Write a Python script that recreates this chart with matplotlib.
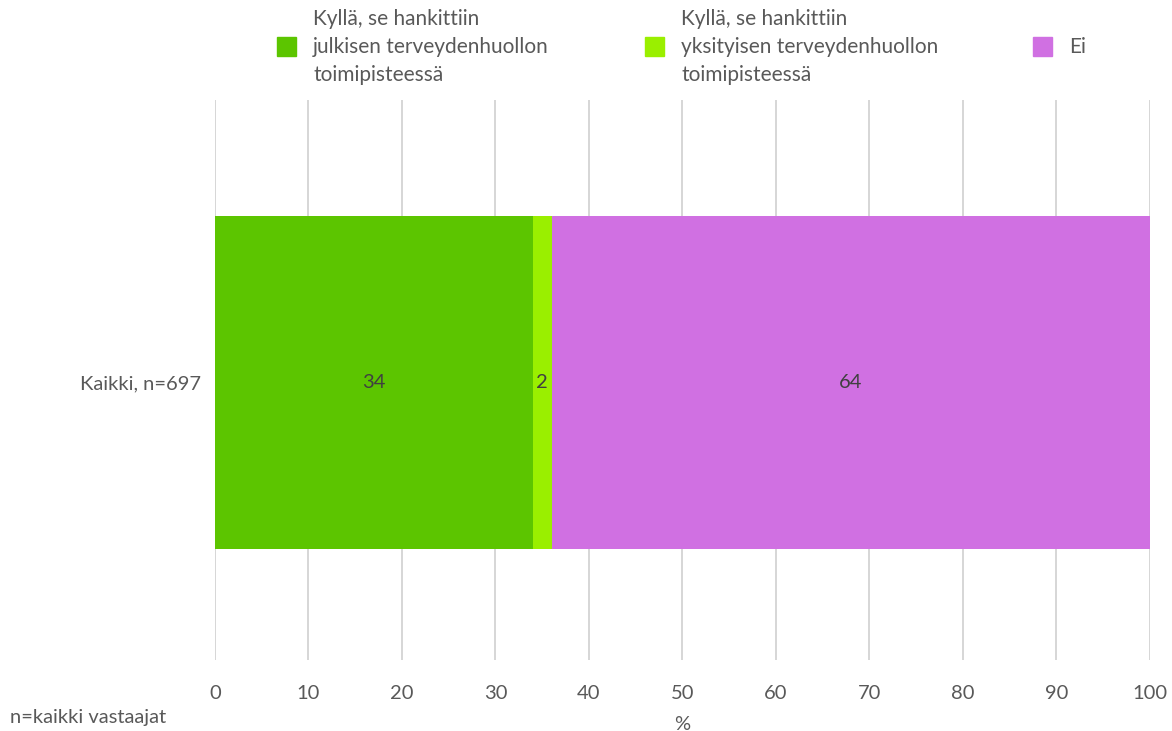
import matplotlib.pyplot as plt
from matplotlib.patches import Rectangle

plt.rcParams["font.family"] = ["Lato", "DejaVu Sans"]

CATEGORIES = ["Kaikki, n=697"]
SERIES = ["Kyllä, se hankittiin\njulkisen terveydenhuollon\ntoimipisteessä",
          "Kyllä, se hankittiin\nyksityisen terveydenhuollon\ntoimipisteessä",
          "Ei"]
VALUES = [34, 2, 64]
COLORS = ["#5CC500", "#9AEF00", "#D070E2"]
TEXT = "#595959"
FS = 14.5

fig = plt.figure(figsize=(11.72, 7.31), dpi=100)
ax = fig.add_axes([0.1834, 0.0971, 0.7978, 0.7661])

left = 0
for val, col in zip(VALUES, COLORS):
    ax.barh(CATEGORIES, [val], left=[left], height=0.595, color=col, zorder=2)
    ax.text(left + val / 2, 0, f"{val}", ha="center", va="center",
            fontsize=FS, color="#404040", zorder=3)
    left += val

ax.set_xlim(0, 100)
ax.set_ylim(-0.495, 0.505)
ax.set_xticks(range(0, 101, 10))
ax.grid(axis="x", color="#D0D0D0", linewidth=1.2, zorder=0)
for s in ax.spines.values():
    s.set_visible(False)
ax.tick_params(axis="both", length=0, labelsize=FS, colors=TEXT, pad=10)
ax.tick_params(axis="x", pad=18)
ax.set_xlabel("%", fontsize=FS, color=TEXT, labelpad=10)

fig.text(10 / 1172, 1 - 717 / 731, "n=kaikki vastaajat", fontsize=FS,
         color=TEXT, ha="left", va="center")

# legend drawn by hand to match layout
sq_x = [277, 645, 1033]
for x, lab, col in zip(sq_x, SERIES, COLORS):
    fig.patches.append(Rectangle((x / 1172, 1 - 56 / 731), 19 / 1172, 19 / 731,
                                 transform=fig.transFigure, color=col))
    fig.text((x + 36) / 1172, 1 - 47 / 731, lab, fontsize=15, color=TEXT,
             ha="left", va="center", linespacing=1.5)

fig.savefig("out.png", dpi=100, facecolor="white")
